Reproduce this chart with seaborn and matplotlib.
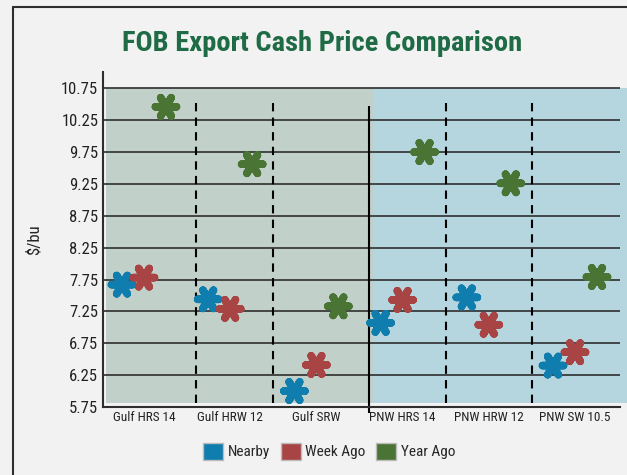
import numpy as np
import pandas as pd
import matplotlib
matplotlib.use("Agg")
import matplotlib.pyplot as plt
from matplotlib import font_manager
from matplotlib.lines import Line2D
from matplotlib.patches import Rectangle, Patch
import seaborn as sns

categories = ["Gulf HRS 14", "Gulf HRW 12", "Gulf SRW", "PNW HRS 14", "PNW HRW 12", "PNW SW 10.5"]
nearby = [7.67, 7.44, 6.00, 7.07, 7.47, 6.40]
week_ago = [7.78, 7.29, 6.41, 7.43, 7.04, 6.61]
year_ago = [10.46, 9.56, 7.33, 9.75, 9.26, 7.79]
series = ["Nearby", "Week Ago", "Year Ago"]
colors = ["#0f7dae", "#a84444", "#4a7434"]
yticks = [5.75, 6.25, 6.75, 7.25, 7.75, 8.25, 8.75, 9.25, 9.75, 10.25, 10.75]

sns.set_theme(style="white")
names = {f.name for f in font_manager.fontManager.ttflist}
cond = "Roboto"
for cand in ["Roboto Condensed", "Liberation Sans Narrow", "Roboto"]:
    if cand in names:
        cond = cand
        break
plt.rcParams["font.family"] = [cond, "DejaVu Sans"]

rows = []
for vals, name, off in zip([nearby, week_ago, year_ago], series, [-0.255, 0.0, 0.255]):
    for i, v in enumerate(vals):
        rows.append({"pos": i + off, "price": v, "series": name})
df = pd.DataFrame(rows)

fig = plt.figure(figsize=(6.27, 4.75), dpi=100, facecolor="#f2f2f2")
ax = fig.add_axes([102.5 / 627, 68 / 475, (620 - 102.5) / 627, (407 - 72.4) / 475])
ax.set_facecolor("#f2f2f2")
ax.set_xlim(-0.481, 5.522)
ax.set_ylim(5.75, 11.0)

# background panels
ax.add_patch(Rectangle((-0.44, 5.81), 3.10, 4.94, color="#c1d0c8", zorder=0, lw=0))
ax.add_patch(Rectangle((2.66, 5.81), 3.0, 4.94, color="#b5d5df", zorder=0, lw=0, clip_on=False))

for t in yticks:
    ax.axhline(t, color="#2e2e2e", lw=1.2, zorder=1)

ax.vlines([0.6, 1.5, 3.5, 4.5], 5.81, 10.60, colors="black", linestyles=(0, (4, 3)), lw=1.5, zorder=2)
ax.vlines([2.61], 5.65, 10.47, colors="black", lw=1.5, zorder=2, clip_on=False)

sns.scatterplot(data=df, x="pos", y="price", hue="series", palette=colors,
                marker=(6, 2, 90), s=230, linewidth=5.5, legend=False, ax=ax, zorder=3)

ax.set_xticks(range(len(categories)))
ax.set_xticklabels(categories, fontsize=9.5)
ax.set_yticks(yticks)
ax.set_yticklabels([f"{t:.2f}" for t in yticks], fontsize=12)
ax.tick_params(axis="both", length=0, pad=3, colors="#222222")
ax.set_xlabel("")
ax.set_ylabel("$/bu", fontsize=12, color="#222222", labelpad=14)

for s in ["top", "right"]:
    ax.spines[s].set_visible(False)
ax.spines["left"].set_color("#2e2e2e")
ax.spines["bottom"].set_color("#2e2e2e")
ax.spines["left"].set_linewidth(1.5)
ax.spines["bottom"].set_linewidth(1.5)

fig.text(0.514, 0.909, "FOB Export Cash Price Comparison", ha="center", va="center",
         fontsize=20.5, fontweight="bold", color="#1f6b45")

handles = [Patch(facecolor=c, edgecolor="#bbbbbb", label=n) for c, n in zip(colors, series)]
fig.legend(handles=handles, loc="center", bbox_to_anchor=(0.525, 0.05), ncol=3, frameon=False,
           fontsize=11, handlelength=1.3, handleheight=1.3, handletextpad=0.3, columnspacing=0.7)

# outer frame lines
fig.add_artist(Line2D([13 / 627, 1], [1 - 7 / 475, 1 - 7 / 475], color="#2e2e2e", lw=1.5, transform=fig.transFigure))
fig.add_artist(Line2D([13 / 627, 13 / 627], [0, 1 - 7 / 475], color="#2e2e2e", lw=1.5, transform=fig.transFigure))

fig.savefig("out.png", dpi=100, facecolor=fig.get_facecolor())
